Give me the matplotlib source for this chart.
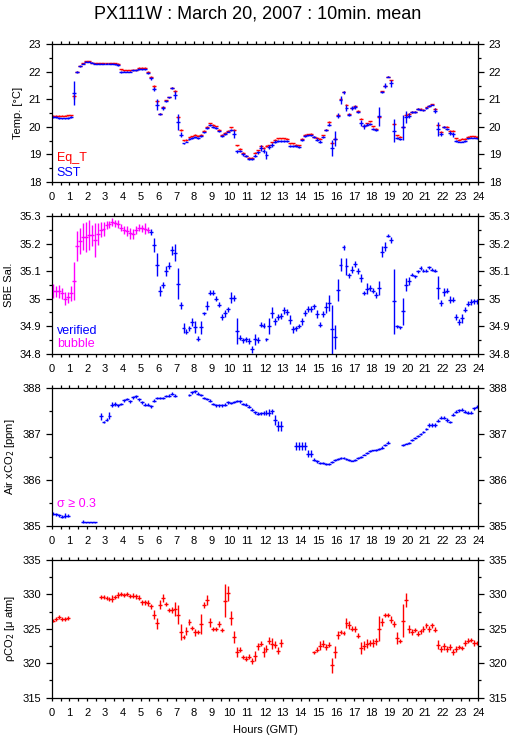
import numpy as np
import matplotlib
matplotlib.use("Agg")
import matplotlib.pyplot as plt
from matplotlib.ticker import MultipleLocator, FormatStrFormatter

nan = np.nan
# 10-minute bins over the day (hours, GMT)
hours = (np.arange(144) + 0.5) / 6.0

# SST (blue) and equilibrator temperature (red), deg C
sst = [20.35, 20.35, 20.33, 20.31, 20.31, 20.33, 20.36, 21.23, 21.99, 22.20, 22.30, 22.36,
       22.36, 22.33, 22.30, 22.29, 22.29, 22.29, 22.29, 22.29, 22.29, 22.28, 22.24, 22.00,
       22.00, 22.00, 22.01, 22.05, 22.05, 22.10, 22.10, 22.09, 21.96, 21.77, 21.37, 20.80,
       20.48, 20.69, 20.95, 21.07, 21.41, 21.17, 20.18, 19.72, 19.40, 19.47, 19.55, 19.60,
       19.64, 19.60, 19.67, 19.80, 19.97, 20.06, 20.00, 19.97, 19.84, 19.67, 19.75, 19.83,
       19.90, 19.75, 19.12, 19.12, 19.00, 18.94, 18.84, 18.84, 18.96, 19.08, 19.24, 19.12,
       18.98, 19.28, 19.35, 19.46, 19.50, 19.50, 19.50, 19.50, 19.30, 19.30, 19.30, 19.27,
       19.52, 19.66, 19.69, 19.69, 19.64, 19.54, 19.46, 19.63, 19.88, 20.08, 19.24, 19.57,
       20.41, 20.99, 21.25, 20.69, 20.45, 20.69, 20.72, 20.55, 20.14, 20.02, 20.08, 20.12,
       19.93, 19.90, 20.39, 21.27, 21.50, 21.83, 21.59, 19.87, 19.60, 19.57, 19.99, 20.36,
       20.41, 20.53, 20.54, 20.65, 20.63, 20.60, 20.69, 20.75, 20.81, 20.59, 19.93, 19.75,
       19.99, 19.93, 19.78, 19.73, 19.50, 19.47, 19.47, 19.50, 19.58, 19.61, 19.61, 19.58]
sst_err = [0.03, 0.03, 0.03, 0.03, 0.03, 0.03, 0.04, 0.42, 0.04, 0.03, 0.03, 0.02,
           0.02, 0.02, 0.02, 0.02, 0.02, 0.02, 0.02, 0.02, 0.02, 0.02, 0.03, 0.03,
           0.02, 0.02, 0.02, 0.02, 0.02, 0.02, 0.02, 0.03, 0.05, 0.05, 0.08, 0.20,
           0.03, 0.08, 0.04, 0.03, 0.04, 0.15, 0.30, 0.10, 0.03, 0.03, 0.03, 0.03,
           0.03, 0.03, 0.03, 0.03, 0.03, 0.04, 0.03, 0.03, 0.03, 0.03, 0.03, 0.03,
           0.03, 0.15, 0.05, 0.04, 0.04, 0.04, 0.03, 0.03, 0.04, 0.05, 0.10, 0.08,
           0.15, 0.08, 0.08, 0.05, 0.03, 0.03, 0.03, 0.03, 0.04, 0.03, 0.03, 0.05,
           0.03, 0.03, 0.03, 0.03, 0.03, 0.04, 0.05, 0.03, 0.04, 0.06, 0.30, 0.28,
           0.10, 0.15, 0.06, 0.10, 0.04, 0.08, 0.08, 0.04, 0.10, 0.10, 0.05, 0.04,
           0.04, 0.04, 0.35, 0.05, 0.10, 0.03, 0.13, 0.40, 0.05, 0.03, 0.45, 0.20,
           0.10, 0.03, 0.03, 0.03, 0.03, 0.03, 0.03, 0.03, 0.03, 0.10, 0.25, 0.08,
           0.04, 0.03, 0.06, 0.08, 0.03, 0.03, 0.03, 0.03, 0.03, 0.03, 0.03, 0.03]
eqt = [20.41, 20.41, 20.41, 20.41, 20.41, 20.42, 20.43, 21.11, 22.01, 22.22, 22.31, 22.39,
       22.39, 22.33, 22.31, 22.31, 22.31, 22.31, 22.31, 22.31, 22.31, 22.31, 22.29, 22.10,
       22.05, 22.05, 22.05, 22.07, 22.07, 22.14, 22.14, 22.14, 22.00, 21.83, 21.47, 20.93,
       20.48, 20.71, 20.96, 21.08, 21.43, 21.29, 20.35, 19.88, 19.51, 19.54, 19.62, 19.66,
       19.71, 19.68, 19.71, 19.86, 20.00, 20.13, 20.07, 20.02, 19.90, 19.71, 19.78, 19.86,
       19.98, 19.90, 19.33, 19.20, 19.06, 18.96, 18.88, 18.88, 19.06, 19.16, 19.30, 19.24,
       19.30, 19.33, 19.45, 19.54, 19.58, 19.58, 19.58, 19.57, 19.40, 19.40, 19.36, 19.33,
       19.57, 19.71, 19.73, 19.76, 19.64, 19.61, 19.57, 19.70, 19.90, 20.18, 19.42, 19.57,
       20.42, 21.01, 21.28, 20.81, 20.46, 20.69, 20.75, 20.58, 20.30, 20.05, 20.14, 20.20,
       20.02, 19.94, 20.36, 21.29, 21.49, 21.83, 21.69, 20.11, 19.70, 19.64, 20.00, 20.45,
       20.48, 20.54, 20.55, 20.66, 20.66, 20.63, 20.72, 20.77, 20.82, 20.65, 20.06, 19.82,
       20.00, 20.00, 19.86, 19.86, 19.59, 19.54, 19.57, 19.57, 19.64, 19.66, 19.66, 19.64]
eqt_err = [0.02, 0.02, 0.02, 0.02, 0.02, 0.02, 0.02, 0.10, 0.02, 0.02, 0.02, 0.02,
           0.02, 0.02, 0.02, 0.02, 0.02, 0.02, 0.02, 0.02, 0.02, 0.02, 0.02, 0.02,
           0.02, 0.02, 0.02, 0.02, 0.02, 0.02, 0.02, 0.02, 0.02, 0.03, 0.04, 0.05,
           0.02, 0.03, 0.02, 0.02, 0.02, 0.05, 0.05, 0.04, 0.02, 0.02, 0.02, 0.02,
           0.02, 0.02, 0.02, 0.02, 0.02, 0.02, 0.02, 0.02, 0.02, 0.02, 0.02, 0.02,
           0.02, 0.04, 0.02, 0.02, 0.02, 0.02, 0.02, 0.02, 0.02, 0.02, 0.03, 0.03,
           0.03, 0.03, 0.02, 0.02, 0.02, 0.02, 0.02, 0.02, 0.02, 0.02, 0.02, 0.02,
           0.02, 0.02, 0.02, 0.02, 0.02, 0.02, 0.02, 0.02, 0.02, 0.03, 0.05, 0.05,
           0.03, 0.04, 0.02, 0.03, 0.02, 0.02, 0.02, 0.02, 0.03, 0.02, 0.02, 0.02,
           0.02, 0.02, 0.05, 0.02, 0.02, 0.02, 0.03, 0.05, 0.02, 0.02, 0.05, 0.04,
           0.02, 0.02, 0.02, 0.02, 0.02, 0.02, 0.02, 0.02, 0.02, 0.02, 0.04, 0.02,
           0.02, 0.02, 0.02, 0.02, 0.02, 0.02, 0.02, 0.02, 0.02, 0.02, 0.02, 0.02]

# SBE salinity; the first n_bubble bins are flagged "bubble"
n_bubble = 33
sal = [35.027, 35.027, 35.027, 35.020, 35.000, 35.005, 35.020, 35.065, 35.190, 35.210, 35.225, 35.225,
       35.230, 35.230, 35.213, 35.234, 35.250, 35.253, 35.267, 35.270, 35.277, 35.273, 35.270, 35.258,
       35.250, 35.246, 35.237, 35.234, 35.250, 35.258, 35.255, 35.253, 35.250, 35.241, 35.195, 35.123,
       35.029, 35.050, 35.100, 35.120, 35.175, 35.167, 35.054, 34.976, 34.892, 34.880, 34.892, 34.916,
       34.896, 34.855, 34.896, 34.947, 34.975, 35.022, 35.022, 35.000, 34.978, 34.933, 34.947, 34.961,
       35.004, 35.002, 34.882, 34.858, 34.848, 34.852, 34.846, 34.816, 34.852, 34.850, 34.906, 34.902,
       34.852, 34.900, 34.948, 34.918, 34.933, 34.936, 34.957, 34.952, 34.924, 34.888, 34.892, 34.900,
       34.918, 34.948, 34.963, 34.963, 34.972, 34.944, 34.906, 34.944, 34.969, 34.984, 34.888, 34.861,
       35.033, 35.123, 35.186, 35.117, 35.084, 35.105, 35.125, 35.101, 35.075, 35.020, 35.036, 35.039,
       35.029, 35.014, 35.039, 35.171, 35.189, 35.229, 35.213, 34.990, 34.900, 34.896, 34.954, 35.051,
       35.065, 35.087, 35.081, 35.099, 35.111, 35.101, 35.101, 35.113, 35.105, 35.101, 35.039, 34.984,
       35.024, 35.029, 34.996, 34.996, 34.933, 34.916, 34.928, 34.960, 34.982, 34.988, 34.990, 34.990]
sal_err = [0.025, 0.020, 0.024, 0.020, 0.024, 0.020, 0.027, 0.069, 0.054, 0.048, 0.048, 0.054,
           0.054, 0.039, 0.063, 0.039, 0.027, 0.027, 0.015, 0.012, 0.015, 0.012, 0.015, 0.012,
           0.015, 0.018, 0.021, 0.018, 0.015, 0.012, 0.012, 0.020, 0.010, 0.010, 0.024, 0.042,
           0.018, 0.010, 0.018, 0.012, 0.015, 0.030, 0.057, 0.012, 0.018, 0.010, 0.010, 0.015,
           0.021, 0.010, 0.024, 0.006, 0.018, 0.010, 0.010, 0.010, 0.010, 0.010, 0.012, 0.010,
           0.020, 0.010, 0.047, 0.010, 0.010, 0.010, 0.010, 0.012, 0.021, 0.010, 0.010, 0.010,
           0.006, 0.030, 0.020, 0.012, 0.010, 0.010, 0.012, 0.010, 0.015, 0.012, 0.010, 0.008,
           0.012, 0.010, 0.010, 0.012, 0.010, 0.015, 0.010, 0.012, 0.020, 0.030, 0.090, 0.045,
           0.040, 0.024, 0.010, 0.030, 0.010, 0.012, 0.012, 0.010, 0.015, 0.008, 0.020, 0.010,
           0.010, 0.010, 0.025, 0.020, 0.015, 0.006, 0.010, 0.117, 0.006, 0.006, 0.048, 0.024,
           0.015, 0.006, 0.006, 0.006, 0.006, 0.006, 0.006, 0.006, 0.006, 0.006, 0.042, 0.010,
           0.015, 0.010, 0.012, 0.010, 0.012, 0.010, 0.015, 0.010, 0.010, 0.010, 0.008, 0.010]

# atmospheric xCO2, ppm
xco2 = [385.26, 385.25, 385.23, 385.20, 385.22, 385.22, nan, nan, nan, nan, 385.09, 385.07,
        385.07, 385.07, 385.07, nan, 387.38, 387.26, 387.31, 387.40, 387.64, 387.65, 387.62, 387.65,
        387.73, 387.76, 387.71, 387.80, 387.82, 387.75, 387.69, 387.64, 387.64, 387.60, 387.72, 387.78,
        387.78, 387.78, 387.82, 387.83, 387.88, 387.83, nan, nan, nan, nan, 387.85, 387.91,
        387.93, 387.88, 387.85, 387.78, 387.76, 387.72, 387.65, 387.62, 387.62, 387.62, 387.64, 387.69,
        387.67, 387.69, 387.71, 387.71, 387.65, 387.64, 387.59, 387.53, 387.47, 387.44, 387.45, 387.45,
        387.46, 387.46, 387.49, 387.31, 387.17, 387.18, nan, nan, nan, nan, 386.74, 386.74,
        386.74, 386.74, 386.57, 386.57, 386.44, 386.40, 386.37, 386.37, 386.35, 386.35, 386.39, 386.44,
        386.46, 386.47, 386.47, 386.45, 386.44, 386.42, 386.44, 386.47, 386.49, 386.55, 386.58, 386.62,
        386.64, 386.65, 386.68, 386.70, 386.76, 386.81, nan, nan, nan, nan, 386.76, 386.79,
        386.81, 386.86, 386.91, 386.96, 387.00, 387.05, 387.11, 387.20, 387.20, 387.20, 387.29, 387.35,
        387.35, 387.31, 387.26, 387.42, 387.48, 387.51, 387.53, 387.48, 387.46, 387.46, 387.56, 387.59]
xco2_err = [0.03, 0.03, 0.03, 0.03, 0.06, 0.03, 0, 0, 0, 0, 0.03, 0.02,
            0.02, 0.02, 0.02, 0, 0.07, 0.03, 0.03, 0.08, 0.06, 0.04, 0.04, 0.03,
            0.03, 0.03, 0.03, 0.03, 0.03, 0.03, 0.03, 0.03, 0.03, 0.03, 0.03, 0.03,
            0.02, 0.02, 0.02, 0.03, 0.03, 0.03, 0, 0, 0, 0, 0.03, 0.03,
            0.03, 0.03, 0.03, 0.03, 0.03, 0.03, 0.03, 0.03, 0.03, 0.03, 0.03, 0.03,
            0.02, 0.02, 0.02, 0.03, 0.03, 0.03, 0.03, 0.03, 0.03, 0.03, 0.03, 0.04,
            0.05, 0.08, 0.06, 0.11, 0.11, 0.11, 0, 0, 0, 0, 0.08, 0.08,
            0.08, 0.08, 0.07, 0.07, 0.03, 0.03, 0.02, 0.02, 0.02, 0.02, 0.02, 0.02,
            0.02, 0.02, 0.02, 0.02, 0.02, 0.02, 0.02, 0.02, 0.02, 0.02, 0.02, 0.02,
            0.02, 0.02, 0.02, 0.03, 0.03, 0.03, 0, 0, 0, 0, 0.03, 0.02,
            0.02, 0.02, 0.02, 0.02, 0.02, 0.02, 0.02, 0.04, 0.04, 0.04, 0.04, 0.03,
            0.03, 0.04, 0.03, 0.04, 0.03, 0.03, 0.03, 0.03, 0.03, 0.03, 0.03, 0.03]

# seawater pCO2, uatm
pco2 = [326.18, 326.42, 326.66, 326.42, 326.42, 326.57, nan, nan, nan, nan, nan, nan,
        nan, nan, nan, nan, 329.60, 329.60, 329.46, 329.36, 329.36, 329.60, 329.94, 330.04,
        329.94, 330.04, 329.80, 329.84, 329.70, 329.55, 328.83, 328.83, 328.73, 328.25, 327.05, 325.84,
        328.49, 329.46, 328.59, 327.77, 327.77, 327.87, 327.05, 324.54, 323.82, 324.73, 325.99, 325.12,
        324.49, 324.49, 325.70, 328.49, 329.22, 325.99, 324.98, 324.98, 325.70, 324.78, 329.07, 330.18,
        326.57, 323.77, 321.65, 321.99, 320.88, 320.69, 320.98, 320.30, 321.02, 322.47, 322.86, 321.65,
        322.13, 323.29, 322.81, 322.71, 321.84, 322.95, nan, nan, nan, nan, nan, nan,
        nan, nan, nan, nan, 321.60, 321.99, 322.57, 322.81, 322.37, 322.71, 319.72, 321.65,
        324.06, 324.54, 324.40, 325.84, 325.60, 325.02, 324.98, 324.01, 322.23, 322.57, 322.86, 322.95,
        322.95, 323.19, 325.02, 325.99, 327.05, 327.05, 326.33, 325.70, 323.67, 323.19, 326.18, 329.22,
        325.02, 324.54, 324.78, 324.30, 324.64, 324.98, 325.51, 324.98, 325.51, 324.88, 322.71, 322.08,
        322.47, 322.08, 322.37, 321.65, 322.08, 322.37, 322.23, 322.95, 323.29, 323.43, 322.95, 322.95]
pco2_err = [0.20, 0.25, 0.30, 0.25, 0.25, 0.25, 0, 0, 0, 0, 0, 0,
            0, 0, 0, 0, 0.30, 0.30, 0.30, 0.30, 0.50, 0.30, 0.40, 0.30,
            0.30, 0.30, 0.30, 0.30, 0.30, 0.30, 0.30, 0.30, 0.40, 0.40, 0.65, 0.80,
            0.65, 0.60, 0.30, 0.30, 0.40, 1.05, 1.35, 1.10, 0.30, 0.60, 0.40, 0.30,
            0.50, 0.30, 1.40, 0.40, 0.70, 0.65, 0.30, 0.30, 0.40, 0.30, 2.40, 1.10,
            1.00, 0.85, 0.75, 0.40, 0.30, 0.30, 0.40, 0.40, 0.70, 0.50, 0.40, 0.75,
            0.50, 0.50, 0.80, 0.50, 0.50, 0.60, 0, 0, 0, 0, 0, 0,
            0, 0, 0, 0, 0.20, 0.40, 0.60, 0.50, 0.50, 0.40, 1.10, 0.85,
            0.60, 0.30, 0.30, 0.70, 0.60, 0.40, 0.40, 0.40, 0.90, 0.60, 0.60, 0.50,
            0.60, 0.50, 1.80, 0.60, 0.30, 0.30, 0.50, 0.40, 0.80, 0.30, 2.40, 1.00,
            0.60, 0.40, 0.30, 0.40, 0.40, 0.40, 0.40, 0.40, 0.40, 0.40, 0.60, 0.40,
            0.50, 0.50, 0.50, 0.40, 0.40, 0.30, 0.30, 0.50, 0.40, 0.30, 0.40, 0.30]

BLUE = '#0000ff'
RED = '#ff0000'
MAG = '#ff00ff'

plt.rcParams['font.family'] = ['Liberation Sans', 'DejaVu Sans']
plt.rcParams['axes.linewidth'] = 0.9

fig = plt.figure(figsize=(5.15, 7.39), dpi=100)
W, H = 515.0, 739.0
left, right = 51.7, 478.3
tops = [44.3, 216.0, 388.0, 560.0]
ph = 137.7
axes = [fig.add_axes([left / W, 1 - (t + ph) / H, (right - left) / W, ph / H]) for t in tops]


def draw(ax, x, y, err, color):
    y = np.asarray(y, float)
    err = np.asarray(err, float)
    ok = ~np.isnan(y)
    ax.errorbar(x[ok], y[ok], xerr=0.11, yerr=err[ok], fmt='none',
                ecolor=color, elinewidth=1.0, capsize=0)


def style(ax, lo, hi, major, minor, ylabel):
    ax.set_xlim(0, 24)
    ax.set_ylim(lo, hi)
    ax.xaxis.set_major_locator(MultipleLocator(1))
    ax.xaxis.set_minor_locator(MultipleLocator(0.5))
    ax.yaxis.set_major_locator(MultipleLocator(major))
    ax.yaxis.set_minor_locator(MultipleLocator(minor))
    ax.yaxis.set_major_formatter(FormatStrFormatter('%g'))
    ax.tick_params(which='both', direction='out', top=True, right=True,
                   labelright=True, labelsize=8, width=0.9)
    ax.tick_params(axis='y', which='major', length=4.5, pad=3)
    ax.tick_params(axis='y', which='minor', length=2.2)
    ax.tick_params(axis='x', which='both', length=2.5, pad=5)
    ax.set_ylabel(ylabel, fontsize=8, labelpad=4)


ax = axes[0]
draw(ax, hours, eqt, eqt_err, RED)
draw(ax, hours, sst, sst_err, BLUE)
style(ax, 18, 23, 1, 0.5, 'Temp. [°C]')
ax.text(0.012, 0.174, 'Eq_T', color=RED, fontsize=9, transform=ax.transAxes, va='center')
ax.text(0.012, 0.065, 'SST', color=BLUE, fontsize=9, transform=ax.transAxes, va='center')

ax = axes[1]
sal_a = np.asarray(sal, float)
sal_e = np.asarray(sal_err, float)
draw(ax, hours[:n_bubble], sal_a[:n_bubble], sal_e[:n_bubble], MAG)
draw(ax, hours[n_bubble:], sal_a[n_bubble:], sal_e[n_bubble:], BLUE)
style(ax, 34.8, 35.3, 0.1, 0.05, 'SBE Sal.')
ax.text(0.012, 0.162, 'verified', color=BLUE, fontsize=9, transform=ax.transAxes, va='center')
ax.text(0.012, 0.07, 'bubble', color=MAG, fontsize=9, transform=ax.transAxes, va='center')

ax = axes[2]
draw(ax, hours, xco2, xco2_err, BLUE)
style(ax, 385, 388, 1, 0.5, 'Air xCO$_2$ [ppm]')
ax.text(0.012, 0.16, 'σ ≥ 0.3', color=MAG, fontsize=9, transform=ax.transAxes, va='center')

ax = axes[3]
draw(ax, hours, pco2, pco2_err, RED)
style(ax, 315, 335, 5, 2.5, 'ρCO$_2$ [μ atm]')
ax.set_xlabel('Hours (GMT)', fontsize=8, labelpad=5)

fig.suptitle('PX111W : March 20, 2007 : 10min. mean', fontsize=13, y=0.993)
fig.savefig('out.png', dpi=100)
